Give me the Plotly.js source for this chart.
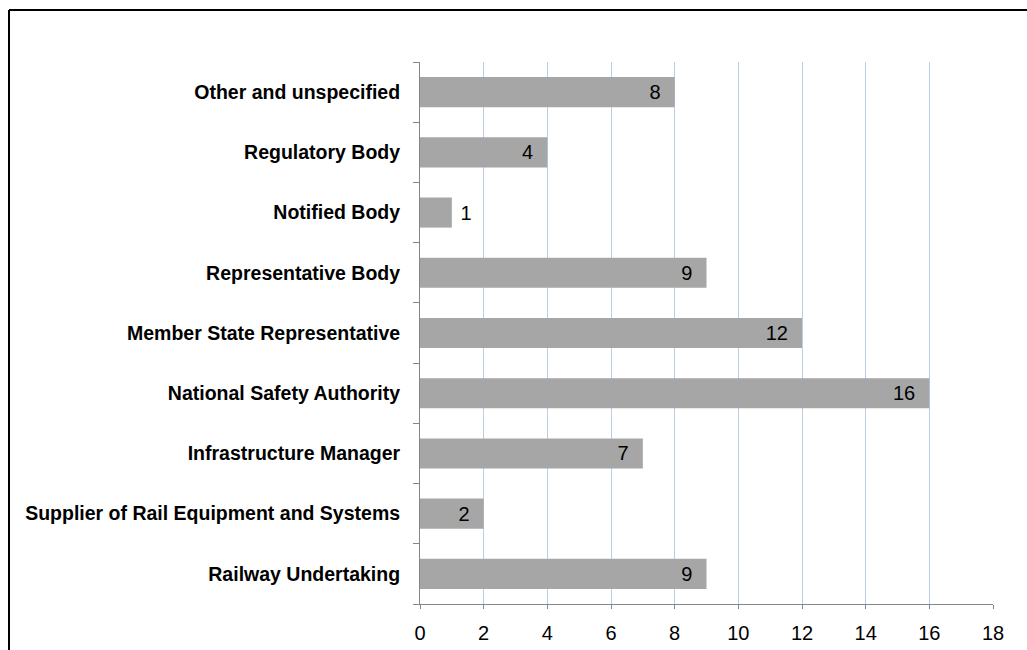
<!DOCTYPE html>
<html>
<head>
<meta charset="utf-8">
<script src="https://cdn.plot.ly/plotly-3.0.1.min.js"></script>
<style>
  html, body { margin: 0; padding: 0; background: #ffffff; }
  #chart { width: 1027px; height: 650px; }
</style>
</head>
<body>
<div id="chart"></div>
<script>
// Categories, bottom to top
const categories = [
  "Railway Undertaking",
  "Supplier of Rail Equipment and Systems",
  "Infrastructure Manager",
  "National Safety Authority",
  "Member State Representative",
  "Representative Body",
  "Notified Body",
  "Regulatory Body",
  "Other and unspecified"
];
const counts = [9, 2, 7, 16, 12, 9, 1, 4, 8];
const xTickValues = [0, 2, 4, 6, 8, 10, 12, 14, 16, 18];
const xTickLabels = ["0", "2", "4", "6", "8", "10", "12", "14", "16", "18"];

const FONT = "Liberation Sans, Arial, sans-serif";

const trace = {
  type: "bar",
  orientation: "h",
  x: counts,
  y: categories,
  marker: { color: "#a6a6a6", line: { width: 0 } },
  texttemplate: counts.map(v => v < 2 ? "\u00a0%{x}" : "%{x}\u00a0\u00a0"),
  textposition: counts.map(v => v < 2 ? "outside" : "inside"),
  insidetextanchor: "end",
  textfont: { family: FONT, size: 20, color: "#000000" },
  insidetextfont: { family: FONT, size: 20, color: "#000000" },
  outsidetextfont: { family: FONT, size: 20, color: "#000000" },
  constraintext: "none",
  cliponaxis: false,
  hoverinfo: "none"
};

// plot area in pixels: x 420..993, y 62..604
const L = 420, R = 993, T = 62, B = 604;
const px = v => (v - L) / (R - L);
const py = v => (B - v) / (B - T);

const layout = {
  width: 1027,
  height: 650,
  margin: { l: L, r: 1027 - R, t: T, b: 650 - B, pad: 0 },
  paper_bgcolor: "#ffffff",
  plot_bgcolor: "#ffffff",
  showlegend: false,
  bargap: 0.5,
  font: { family: FONT, color: "#000000" },
  xaxis: {
    range: [0, 18],
    tickmode: "array",
    tickvals: xTickValues,
    ticktext: xTickLabels,
    showgrid: true,
    gridcolor: "#b9cde5",
    gridwidth: 1,
    zeroline: false,
    showline: true,
    linecolor: "#868686",
    linewidth: 1,
    ticks: "outside",
    ticklen: 4,
    tickcolor: "#868686",
    ticklabelstandoff: 7,
    tickfont: { family: FONT, size: 20, color: "#000000" },
    fixedrange: true
  },
  yaxis: {
    type: "category",
    categoryorder: "array",
    categoryarray: categories,
    showgrid: false,
    zeroline: false,
    showline: true,
    linecolor: "#868686",
    linewidth: 1,
    ticks: "outside",
    tickson: "boundaries",
    ticklen: 6,
    tickcolor: "#868686",
    ticklabelstandoff: 15,
    tickfont: { family: FONT, size: 19.5, color: "#000000", weight: "bold" },
    fixedrange: true
  },
  shapes: [
    { type: "line", xref: "paper", yref: "paper", x0: px(9), x1: px(9), y0: py(10), y1: py(660),
      line: { color: "#000000", width: 2 } },
    { type: "line", xref: "paper", yref: "paper", x0: px(9), x1: px(1040), y0: py(10), y1: py(10),
      line: { color: "#000000", width: 2 } }
  ]
};

Plotly.newPlot("chart", [trace], layout, { displayModeBar: false, staticPlot: true });
</script>
</body>
</html>
